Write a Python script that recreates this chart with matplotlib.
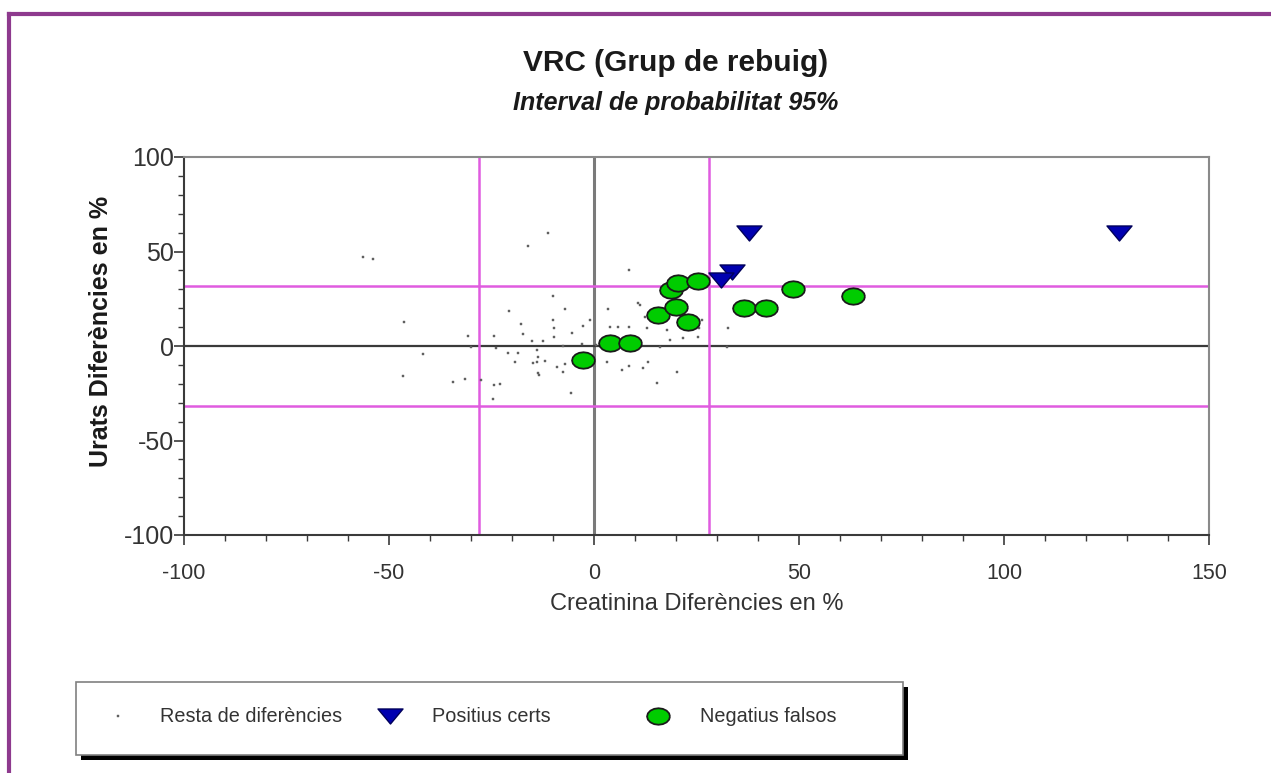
import matplotlib
matplotlib.use("Agg")
import matplotlib.pyplot as plt
import numpy as np
from matplotlib.path import Path
from matplotlib.lines import Line2D
from matplotlib.patches import Rectangle

plt.rcParams['font.family'] = ['Liberation Sans', 'DejaVu Sans']
plt.rcParams['axes.unicode_minus'] = False

# ---- data ----
title = "VRC (Grup de rebuig)"
subtitle = "Interval de probabilitat 95%"
xlabel = "Creatinina Diferències en %"
ylabel = "Urats Diferències en %"
series_labels = ["Resta de diferències", "Positius certs", "Negatius falsos"]

rest_x = [-56.3, -53.8, -46.3, -41.6, -46.7, -34.3, -31.5, -30.8, -30.1, -27.6,
          -24.3, -24.0, -24.3, -22.9, -24.7, -21.0, -18.5, -19.3, -16.0, -11.1,
          -20.7, -17.9, -17.4, -15.2, -14.8, -13.6, -13.3, 8.6, -10.1, -7.1,
          -1.0, 3.5, -9.9, -9.8, -2.6, -5.4, -9.8, -12.4, -7.5, -3.0,
          -13.8, -14.0, -12.0, -9.1, -7.1, -7.5, -13.6, -5.7, 0.6, 3.1,
          3.9, 5.9, 8.6, 6.8, 8.6, 11.2, 12.9, 13.2, 15.3, 20.2,
          18.5, 16.1, 17.7, 21.8, 25.4, 25.6, 32.8, 32.4, 10.8, 12.4,
          12.0, 26.3]
rest_y = [47.2, 46.0, 12.5, -4.4, -15.9, -19.0, -17.3, 5.3, -0.3, -18.0,
          5.3, -1.2, -20.8, -20.1, -27.9, -3.5, -3.5, -8.3, 52.9, 60.0,
          18.7, 11.5, 6.3, 2.8, -8.8, -5.7, -15.3, 40.2, 26.5, 19.4,
          13.8, 19.4, 13.8, 9.7, 10.6, 7.0, 4.9, 2.8, 0.0, 0.9,
          -2.1, -8.3, -7.9, -10.9, -9.5, -13.6, -14.5, -24.7, 0.5, -8.3,
          10.2, 10.2, 10.2, -12.7, -10.6, 21.7, 9.4, -8.3, -19.7, -13.6,
          3.2, -0.3, 8.5, 4.1, 4.6, 9.4, 9.4, -0.3, 22.6, 15.5,
          -11.8, 13.8]

tp_x = [37.9, 128.1, 33.6, 30.9]
tp_y = [59.6, 59.6, 39.3, 34.9]

fn_x = [-2.6, 3.9, 8.8, 15.7, 19.9, 23.0, 18.9, 20.6, 25.4, 36.7, 42.0, 48.6, 63.2]
fn_y = [-7.4, 1.7, 1.7, 16.4, 20.8, 12.9, 29.6, 33.2, 34.4, 19.9, 19.9, 30.0, 26.5]

x_limit = 28.0
y_limit = 31.8

# ---- figure ----
W, H = 1271, 773
fig = plt.figure(figsize=(W / 100, H / 100), dpi=100)
fig.patch.set_facecolor('white')

def fx(px):
    return px / W

def fy(py):
    return 1 - py / H

ax = fig.add_axes([fx(184), fy(535), fx(1209) - fx(184), fy(157) - fy(535)])
ax.set_xlim(-100, 150)
ax.set_ylim(-100, 100)

# guide lines
ax.axvline(0, color='#7a7a7a', lw=2.2, zorder=1)
ax.axhline(0, color='#3a3a3a', lw=1.6, zorder=1)
mag = '#e05ce0'
for v in (-x_limit, x_limit):
    ax.axvline(v, color=mag, lw=1.8, zorder=1)
for v in (-y_limit, y_limit):
    ax.axhline(v, color=mag, lw=1.8, zorder=1)

# markers
tri = Path([(-1, 0.6), (1, 0.6), (0, -0.6), (-1, 0.6)],
           [Path.MOVETO, Path.LINETO, Path.LINETO, Path.CLOSEPOLY])
t = np.linspace(0, 2 * np.pi, 17)
ell = Path(np.column_stack([np.cos(t), 0.72 * np.sin(t)]))

h_rest, = ax.plot(rest_x, rest_y, ls='none', marker='s', ms=1.7,
                  mfc='#606060', mec='#606060', mew=0.3, zorder=3)
h_tp, = ax.plot(tp_x, tp_y, ls='none', marker=tri, ms=18,
                mfc='#0000b0', mec='#00005a', mew=1.0, zorder=5)
h_fn, = ax.plot(fn_x, fn_y, ls='none', marker=ell, ms=16.5,
                mfc='#00cc00', mec='#1a1a1a', mew=1.3, zorder=4)

# axes styling
for s in ['top', 'right']:
    ax.spines[s].set_color('#8a8a8a')
    ax.spines[s].set_linewidth(1.5)
for s in ['left', 'bottom']:
    ax.spines[s].set_color('#3a3a3a')
    ax.spines[s].set_linewidth(1.5)

ax.set_xticks(np.arange(-100, 151, 50))
ax.set_xticks(np.arange(-100, 151, 10), minor=True)
ax.set_yticks(np.arange(-100, 101, 50))
ax.set_yticks(np.arange(-100, 101, 10), minor=True)
ax.tick_params(axis='both', which='major', direction='out', length=7, width=1.2,
               color='#3a3a3a', labelcolor='#333333')
ax.tick_params(axis='both', which='minor', direction='out', length=4, width=1.0,
               color='#3a3a3a')
ax.tick_params(axis='x', which='major', pad=13, labelsize=15.5)
ax.tick_params(axis='y', which='major', pad=0, labelsize=18)

ax.set_xlabel(xlabel, fontsize=17, color='#333333', labelpad=7)
ax.set_ylabel(ylabel, fontsize=18, fontweight='bold', color='#1a1a1a')
ax.yaxis.set_label_coords(-(184 - 113) / (1209 - 184), (535 - 331) / (535 - 157))

fig.text(fx(676), fy(63), title, ha='center', va='center', fontsize=21.5,
         fontweight='bold', color='#1a1a1a')
fig.text(fx(676), fy(103), subtitle, ha='center', va='center', fontsize=18,
         fontweight='bold', fontstyle='italic', color='#1a1a1a')

# outer frame (purple)
fig.add_artist(Line2D([fx(9), 1], [fy(14), fy(14)], color='#8e3a8e', lw=3.0,
                      transform=fig.transFigure))
fig.add_artist(Line2D([fx(9), fx(9)], [0, fy(14)], color='#8e3a8e', lw=3.0,
                      transform=fig.transFigure))

# legend box with shadow
bx0, by0, bx1, by1 = 76, 682, 903, 755
fig.add_artist(Rectangle((fx(bx0 + 5), fy(by1 + 5)), fx(bx1 - bx0), fy(by0) - fy(by1),
                         transform=fig.transFigure, facecolor='black',
                         edgecolor='none', zorder=1))
fig.add_artist(Rectangle((fx(bx0), fy(by1)), fx(bx1 - bx0), fy(by0) - fy(by1),
                         transform=fig.transFigure, facecolor='white',
                         edgecolor='#808080', lw=1.2, zorder=2))

handles = [h_rest, h_tp, h_fn]
marker_px = [118, 390, 658]
for h, lab, mx in zip(handles, series_labels, marker_px):
    leg = fig.legend([h], [lab], loc='center left',
                     bbox_to_anchor=(fx(mx - 20), fy(717)),
                     frameon=False, borderpad=0, borderaxespad=0,
                     handlelength=2.0, handletextpad=1.12, fontsize=14.3,
                     labelcolor='#333333')
    leg.set_zorder(3)

fig.savefig('out.png', dpi=100, facecolor='white')
